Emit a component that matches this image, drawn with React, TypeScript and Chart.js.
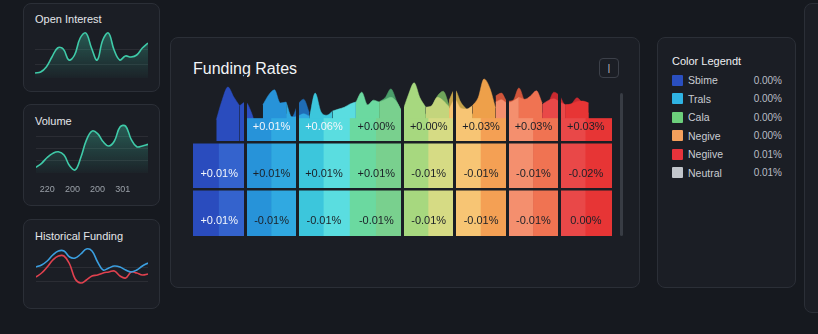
import React, { useEffect, useRef } from 'react';
import { Chart, registerables } from 'chart.js';

Chart.register(...registerables);

const FONT = '"Liberation Sans", Arial, Helvetica, sans-serif';
const PAGE_BG = '#16191f';
const PANEL_BG = '#1b1e25';
const PANEL_BORDER = '#2b2f37';
const GRID = 'rgba(255,255,255,0.07)';

// ---------- Open Interest ----------
const oiValues = [5, 6, 11, 21, 30, 29, 18, 23, 40, 45, 30, 18, 38, 45, 28, 18, 22, 21, 23, 30, 35];
const oiGrid = [14, 28, 42];

// ---------- Volume ----------
const volValues = [7, 12, 19, 24, 26, 22, 9, 4, 19, 40, 51, 48, 38, 33, 39, 56, 57, 41, 32, 33, 35];
const volTickLabels = ['220', '200', '200', '301'];
const volTickPositions = [2, 6.5, 11, 15.5];
const volGrid = [15, 30, 45];

// ---------- Historical Funding ----------
const histBlue = [14, 16, 20, 26, 30, 30, 24, 23, 27, 32, 30, 19, 11, 13, 15, 14, 11, 9, 11, 15, 18];
const histRed = [4, 8, 14, 21, 25, 25, 17, 2, -2, 1, 5, 6, 8, 9, 10, 5, 3, 9, 8, 6, 7];
const histGrid = [0, 14];

// ---------- Funding Rates heatmap ----------
const heatColumns = ['C1', 'C2', 'C3', 'C4', 'C5', 'C6', 'C7', 'C8'];
const topRowRates = ['', '+0.01%', '+0.06%', '+0.00%', '+0.00%', '+0.03%', '+0.03%', '+0.03%'];
const midRowRates = ['+0.01%', '+0.01%', '+0.01%', '+0.01%', '-0.01%', '-0.01%', '-0.01%', '-0.02%'];
const botRowRates = ['+0.01%', '-0.01%', '-0.01%', '-0.01%', '-0.01%', '-0.01%', '-0.01%', '0.00%'];
const leftShades = ['#2a4cbe', '#2793d9', '#3cc6dc', '#6bd9a0', '#a7d87f', '#f7c574', '#f48f6e', '#e94848'];
const rightShades = ['#3463cd', '#30a9e1', '#5adde0', '#79d08e', '#d6db84', '#f4a054', '#f07352', '#e73535'];
const peakRightShades = ['#2b4fc2', '#30a9e1', '#5adde0', '#79d08e', '#c4d57c', '#eea04a', '#f07352', '#e73535'];
const ridgeShades = ['#2444a8', '#1f6cb6', '#2aa2c4', '#4a9e6a', '#6ea45a', '#c4a24a', '#d0553a', '#c92a30'];
// activity profile above each column (row units), 9 samples per column
const frontProfiles = [
  [2.47, 2.89, 3.17, 2.96, 2.77, 2.85, 2.64, 2.26, 2.04],
  [2.79, 3.0, 3.11, 2.83, 2.85, 2.53, 2.55, 2.6, 2.55],
  [2.51, 3.04, 2.64, 2.57, 2.66, 2.7, 2.74, 2.81, 2.85],
  [2.85, 3.06, 2.79, 2.89, 2.85, 2.9, 2.95, 2.85, 2.62],
  [2.64, 3.0, 3.26, 2.94, 2.74, 2.77, 2.95, 2.88, 2.75],
  [2.7, 2.9, 2.72, 2.7, 2.77, 2.94, 3.34, 3.15, 2.72],
  [2.85, 2.9, 2.83, 2.87, 2.95, 2.91, 2.98, 3.09, 2.83],
  [2.8, 2.88, 2.92, 2.85, 2.79, 2.81, 2.86, 2.87, 2.83],
];
const ridgeProfiles = [
  [2.0, 2.0, 2.0, 2.0, 2.0, 2.0, 2.0, 2.0, 2.0],
  [2.5, 2.5, 2.5, 2.5, 2.6, 2.53, 2.79, 2.91, 2.62],
  [2.0, 2.0, 2.0, 2.0, 2.0, 2.0, 2.0, 2.0, 2.0],
  [2.5, 2.5, 2.5, 2.7, 2.85, 2.94, 3.13, 2.87, 2.6],
  [2.5, 2.5, 2.5, 2.5, 2.6, 2.75, 2.98, 3.08, 2.79],
  [2.89, 3.11, 2.85, 2.7, 2.6, 2.5, 2.5, 2.5, 2.5],
  [2.98, 3.04, 2.87, 2.89, 3.15, 2.85, 2.6, 2.5, 2.5],
  [2.6, 2.8, 3.06, 2.98, 2.79, 2.81, 2.94, 2.8, 2.6],
];

// ---------- Legend ----------
const legendNames = ['Sbime', 'Trals', 'Cala', 'Negive', 'Negiive', 'Neutral'];
const legendValues = ['0.00%', '0.00%', '0.00%', '0.00%', '0.01%', '0.01%'];
const legendColors = ['#2a4fc0', '#2fb3e3', '#6ccf7c', '#f4a05c', '#e7333b', '#c2c6cc'];

function useChart(ref: any, make: () => any) {
  useEffect(() => {
    const chart = new Chart(ref.current, make());
    return () => chart.destroy();
  }, []);
}

const gridOnly = (vals: number[]) => ({
  color: (ctx: any) => (ctx.tick && vals.includes(ctx.tick.value) ? GRID : 'transparent'),
  drawTicks: false,
});

function tealGradient(ctx: any) {
  const { chart } = ctx;
  const area = chart.chartArea;
  if (!area) return 'rgba(63,201,168,0.2)';
  const g = chart.ctx.createLinearGradient(0, area.top, 0, area.bottom);
  g.addColorStop(0, 'rgba(63,201,168,0.38)');
  g.addColorStop(1, 'rgba(63,201,168,0.03)');
  return g;
}

const baseOptions = {
  responsive: false, animation: false, events: [],
  layout: { padding: 0 },
  plugins: { legend: { display: false }, tooltip: { enabled: false } },
};

function OpenInterestChart() {
  const ref = useRef<HTMLCanvasElement>(null);
  useChart(ref, () => ({
    type: 'line',
    data: {
      labels: oiValues.map((_, i) => i),
      datasets: [{
        data: oiValues, borderColor: '#3fcaa8', borderWidth: 1.6, pointRadius: 0,
        tension: 0.4, fill: 'origin', backgroundColor: tealGradient,
      }],
    },
    options: {
      ...baseOptions,
      scales: {
        x: { display: false },
        y: { min: 0, max: 50, ticks: { display: false, stepSize: 14 }, border: { display: false }, grid: gridOnly(oiGrid) },
      },
    },
  }));
  return <canvas ref={ref} width={113} height={50} style={{ position: 'absolute', left: 35, top: 28 }} />;
}

function VolumeChart() {
  const ref = useRef<HTMLCanvasElement>(null);
  useChart(ref, () => ({
    type: 'line',
    data: {
      labels: volValues.map((_, i) => i),
      datasets: [{
        data: volValues, borderColor: '#3fcaa8', borderWidth: 1.6, pointRadius: 0,
        tension: 0.4, fill: 'origin', backgroundColor: tealGradient,
      }],
    },
    options: {
      ...baseOptions,
      scales: {
        x: {
          type: 'linear', min: 0, max: volValues.length - 1,
          afterBuildTicks: (axis: any) => { axis.ticks = volTickPositions.map((v) => ({ value: v })); },
          ticks: {
            callback: (_v: any, i: number) => volTickLabels[i], color: '#9aa0a8',
            font: { family: FONT, size: 9 }, padding: 3, maxRotation: 0, autoSkip: false,
          },
          grid: { display: false }, border: { display: false },
        },
        y: { min: 0, max: 62, ticks: { display: false, stepSize: 15 }, border: { display: false }, grid: gridOnly(volGrid) },
      },
    },
  }));
  return <canvas ref={ref} width={112} height={76} style={{ position: 'absolute', left: 36, top: 122 }} />;
}

function HistoricalChart() {
  const ref = useRef<HTMLCanvasElement>(null);
  useChart(ref, () => ({
    type: 'line',
    data: {
      labels: histBlue.map((_, i) => i),
      datasets: [
        { data: histBlue, borderColor: '#3b9fe0', borderWidth: 1.6, pointRadius: 0, tension: 0.4 },
        { data: histRed, borderColor: '#e0414f', borderWidth: 1.6, pointRadius: 0, tension: 0.4 },
      ],
    },
    options: {
      ...baseOptions,
      scales: {
        x: { display: false },
        y: { min: -23, max: 41, ticks: { display: false, stepSize: 14 }, border: { display: false }, grid: gridOnly(histGrid) },
      },
    },
  }));
  return <canvas ref={ref} width={112} height={64} style={{ position: 'absolute', left: 36, top: 240 }} />;
}

const rowRates = [botRowRates, midRowRates, topRowRates];
const ROW_SPANS: [number, number][] = [[0, 1], [1, 2], [2, 2.5]];
const ROW_BOUNDARIES = [1, 2];
const subColumns = heatColumns.flatMap((c) => [`${c}-a`, `${c}-b`]);
const subShades = heatColumns.flatMap((_, i) => [leftShades[i], rightShades[i]]);
// columns 3 and 4 form one joined block (no separator between them)
const joinedBoundary = 6;

const cellLabelPlugin = {
  id: 'cellLabels',
  afterDraw(chart: any) {
    const { ctx } = chart;
    const x = chart.scales.x;
    const y = chart.scales.y;
    ctx.save();
    ctx.font = `11px ${FONT}`;
    ctx.textAlign = 'center';
    ctx.textBaseline = 'middle';
    rowRates.forEach((rates, r) => {
      rates.forEach((t, i) => {
        if (!t) return;
        const light = i === 0 || (r === 2 && i <= 2);
        ctx.fillStyle = light ? '#f3f6fb' : '#1b2027';
        const px = (x.getPixelForValue(2 * i) + x.getPixelForValue(2 * i + 1)) / 2;
        ctx.fillText(t, px, y.getPixelForValue(ROW_SPANS[r][0] + 0.33));
      });
    });
    ctx.restore();
  },
};

function FundingHeatmap() {
  const ref = useRef<HTMLCanvasElement>(null);
  useChart(ref, () => {
    const datasets: any[] = [];
    ROW_SPANS.forEach((span, r) => {
      datasets.push({
        type: 'bar',
        data: subColumns.map((_, s) => (rowRates[r][Math.floor(s / 2)] ? span : null)),
        backgroundColor: subShades,
        borderWidth: 0,
        categoryPercentage: 1,
        barPercentage: 1,
        grouped: false,
        xAxisID: 'x',
        yAxisID: 'y',
        order: 0,
      });
    });
    const colX = (i: number, j: number) => i + j / 8;
    frontProfiles.forEach((profile, i) => {
      [0, 1].forEach((h) => {
        const col = h === 0 ? leftShades[i] : peakRightShades[i];
        datasets.push({
          type: 'line',
          data: profile.slice(h * 4, h * 4 + 5).map((v, k) => ({ x: colX(i, h * 4 + k), y: v })),
          xAxisID: 'xp', yAxisID: 'y',
          fill: { value: 2 },
          backgroundColor: col, borderColor: col, borderWidth: 0.5,
          pointRadius: 0, cubicInterpolationMode: 'monotone',
          order: 2,
        });
      });
    });
    ridgeProfiles.forEach((profile, i) => {
      datasets.push({
        type: 'line',
        data: profile.map((v, j) => ({ x: colX(i, j), y: v })),
        xAxisID: 'xp', yAxisID: 'y',
        fill: { value: 2 },
        backgroundColor: ridgeShades[i], borderColor: ridgeShades[i], borderWidth: 0.5,
        pointRadius: 0, cubicInterpolationMode: 'monotone',
        order: 3,
      });
    });
    return {
      type: 'bar',
      data: { labels: subColumns, datasets },
      plugins: [cellLabelPlugin],
      options: {
        ...baseOptions,
        scales: {
          x: {
            type: 'category', offset: true,
            ticks: { display: false }, border: { display: false },
            grid: {
              offset: true, drawTicks: false, lineWidth: 3, z: 1,
              color: (ctx: any) => (ctx.index > 0 && ctx.index < subColumns.length && ctx.index % 2 === 0 && ctx.index !== joinedBoundary ? PANEL_BG : 'transparent'),
            },
          },
          xp: { type: 'linear', display: false, min: 0, max: heatColumns.length },
          y: {
            type: 'linear', min: 0, max: 3.4255,
            afterBuildTicks: (axis: any) => { axis.ticks = ROW_BOUNDARIES.map((v) => ({ value: v })); },
            ticks: { display: false }, border: { display: false },
            grid: {
              drawTicks: false, lineWidth: 2.5, z: 1,
              color: (ctx: any) => (ctx.tick && ROW_BOUNDARIES.includes(ctx.tick.value) ? PANEL_BG : 'transparent'),
            },
          },
        },
      },
    };
  });
  return <canvas ref={ref} width={419} height={161} style={{ position: 'absolute', left: 193, top: 75 }} />;
}

function Panel({ x, y, w, h }: any) {
  return (
    <div style={{
      position: 'absolute', left: x, top: y, width: w, height: h, boxSizing: 'border-box',
      background: PANEL_BG, border: `1px solid ${PANEL_BORDER}`, borderRadius: 8,
    }} />
  );
}

function Txt({ x, cy, size, color, children, right }: any) {
  const lh = Math.round(size * 1.3);
  const style: any = {
    position: 'absolute', top: cy - lh / 2, lineHeight: `${lh}px`, fontSize: size,
    color, whiteSpace: 'nowrap', fontFamily: FONT,
  };
  if (right !== undefined) { style.right = right; style.textAlign = 'right'; } else style.left = x;
  return <div style={style}>{children}</div>;
}

export default function App() {
  return (
    <div style={{ position: 'fixed', left: 0, top: 0, width: 818, height: 334, background: PAGE_BG, overflow: 'hidden', fontFamily: FONT }}>
      <Panel x={23} y={3} w={137} h={89} />
      <Panel x={23} y={104} w={137} h={102} />
      <Panel x={23} y={219} w={137} h={90} />
      <Panel x={170} y={37} w={470} h={251} />
      <Panel x={657} y={37} w={139} h={251} />
      <Panel x={804} y={3} w={40} h={310} />

      <Txt x={35} cy={19} size={11} color="#e4e6ea">Open Interest</Txt>
      <OpenInterestChart />
      <Txt x={35} cy={120.5} size={11} color="#e4e6ea">Volume</Txt>
      <VolumeChart />
      <Txt x={35} cy={236} size={11} color="#e4e6ea">Historical Funding</Txt>
      <HistoricalChart />

      <Txt x={193} cy={68} size={16} color="#f2f4f7">Funding Rates</Txt>
      <div style={{
        position: 'absolute', left: 599, top: 58, width: 20, height: 20, boxSizing: 'border-box',
        border: '1px solid #3c4049', borderRadius: 4, color: '#cfd3d9', fontSize: 9,
        lineHeight: '18px', textAlign: 'center', fontFamily: FONT,
      }}>|</div>
      <div style={{ position: 'absolute', left: 620, top: 93, width: 3, height: 143, background: '#383c44', borderRadius: 2 }} />
      <FundingHeatmap />

      <Txt x={672} cy={61} size={11} color="#eceef2">Color Legendt</Txt>
      {legendNames.map((name, i) => (
        <React.Fragment key={name + i}>
          <div style={{ position: 'absolute', left: 672, top: 80 + i * 18.5 - 5.5, width: 11, height: 11, background: legendColors[i], borderRadius: 1 }} />
          <Txt x={688} cy={80 + i * 18.5} size={10.5} color="#c9cdd3">{name}</Txt>
          <Txt right={36} cy={80 + i * 18.5} size={10} color="#b9bdc4">{legendValues[i]}</Txt>
        </React.Fragment>
      ))}
    </div>
  );
}
